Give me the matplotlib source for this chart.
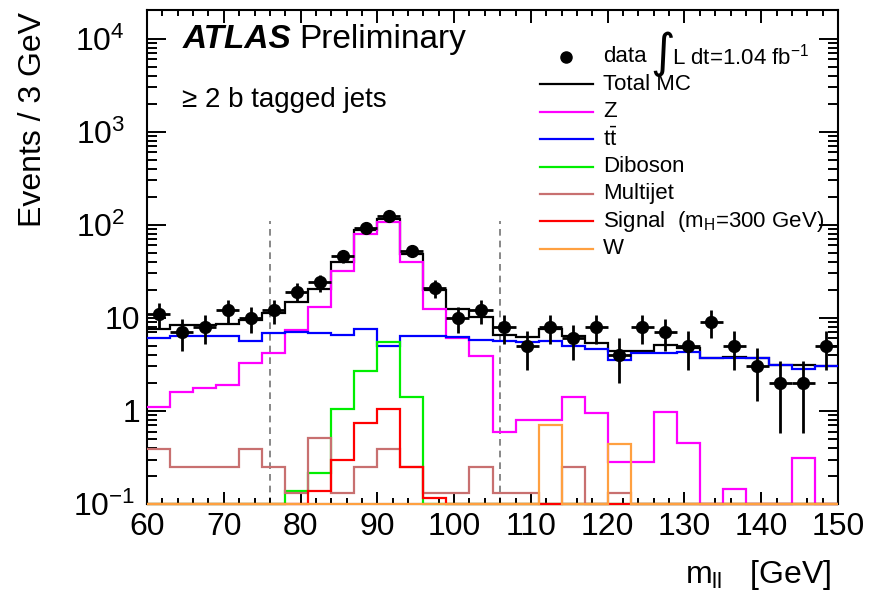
import numpy as np
import matplotlib
matplotlib.use('Agg')
import matplotlib.pyplot as plt
from matplotlib.ticker import FixedLocator, FixedFormatter, MultipleLocator, LogLocator, NullFormatter
from matplotlib.transforms import ScaledTranslation

plt.rcParams['font.family'] = ['Liberation Sans', 'DejaVu Sans']
plt.rcParams['mathtext.fontset'] = 'custom'
plt.rcParams['mathtext.rm'] = 'Liberation Sans'
plt.rcParams['mathtext.it'] = 'Liberation Sans:italic'
plt.rcParams['mathtext.bf'] = 'Liberation Sans:bold'

# m_ll bins, 3 GeV wide from 60 to 150
edges = np.arange(60, 151, 3)

# observed events per bin
data = [11, 7, 8, 12, 10, 12, 19, 24, 46, 92, 123, 52, 21, 10, 12,
        8, 5, 8, 6, 8, 4, 8, 7, 5, 9, 5, 3, 2, 2, 5]

total_mc = [7.6, 8.3, 8.4, 8.6, 9.4, 11.3, 14.7, 20.5, 39.5, 88, 116, 48, 19.8, 12.4, 10.2,
            6.5, 6.2, 7.5, 6.4, 5.4, 4.35, 4.4, 5.1, 4.75, 3.68, 3.8, 3.68, 3.12, 3.12, 3.0]
z_jets = [1.11, 1.61, 1.75, 1.9, 3.3, 4.17, 7.4, 13.0, 31.5, 80, 106, 40, 12.5, 6.05, 3.9,
          0.6, 0.8, 0.8, 1.4, 0.94, 0.28, 0.28, 0.98, 0.456, 0, 0.144, 0, 0, 0.31, 0]
ttbar = [6.05, 6.4, 6.4, 6.4, 5.7, 6.85, 7.1, 6.9, 6.56, 7.55, 4.92, 6.3, 6.3, 6.2, 5.8,
         5.7, 5.43, 5.7, 4.92, 4.6, 3.53, 4.17, 4.17, 4.3, 3.68, 3.68, 3.68, 3.12, 2.81, 3.0]
diboson = [0, 0, 0, 0, 0, 0, 0.139, 0.214, 1.04, 2.71, 5.43, 1.4, 0, 0, 0,
           0, 0, 0, 0, 0, 0, 0, 0, 0, 0, 0, 0, 0, 0, 0]
multijet = [0.39, 0.25, 0.25, 0.25, 0.39, 0.25, 0.13, 0.51, 0.13, 0.25, 0.39, 0.25, 0.13, 0.13, 0.25,
            0.13, 0.13, 0, 0.25, 0, 0.13, 0, 0, 0, 0, 0, 0, 0, 0, 0]
signal = [0, 0, 0, 0, 0, 0, 0, 0.139, 0.3, 0.75, 1.04, 0.25, 0.117, 0, 0,
          0, 0, 0, 0, 0, 0, 0, 0, 0, 0, 0, 0, 0, 0, 0]
w_jets = [0, 0, 0, 0, 0, 0, 0, 0, 0, 0, 0, 0, 0, 0, 0,
          0, 0, 0.707, 0, 0, 0.44, 0, 0, 0, 0, 0, 0, 0, 0, 0]

cuts = [76, 106]

ymin, ymax = 0.1, 2.0e4

fig = plt.figure(figsize=(8.72, 6.02), dpi=100)
ax = fig.add_axes([0.1686, 0.1628, 0.7924, 0.8198])
ax.set_yscale('log')

series = [
    (total_mc, 'black', 'Total MC'),
    (z_jets, '#ff00ff', 'Z'),
    (ttbar, '#0000ff', r'$\mathrm{t\bar{t}}$'),
    (diboson, '#00ee00', 'Diboson'),
    (multijet, '#c87070', 'Multijet'),
    (signal, '#ff0000', r'Signal  (m$_{\rm H}$=300 GeV)'),
    (w_jets, '#ffa040', 'W'),
]

# zero bins drop onto the bottom of the frame, like ROOT does on log scale
for vals, col, lab in series:
    v = np.maximum(np.asarray(vals, float), ymin)
    ax.stairs(v, edges, baseline=None, color=col, lw=1.6, zorder=3, clip_on=False)

ax.vlines(cuts, ymin, 110, colors='0.45', linestyles=(0, (4, 3)), lw=1.2, zorder=1)

centers = 0.5 * (edges[:-1] + edges[1:])
d = np.asarray(data, float)
ax.errorbar(centers, d, yerr=np.sqrt(d), xerr=1.5, fmt='o', color='black',
            ms=8.5, elinewidth=2.0, capsize=0, zorder=5)

ax.set_xlim(60, 150)
ax.set_ylim(ymin, ymax)

ax.xaxis.set_major_locator(MultipleLocator(10))
ax.xaxis.set_minor_locator(MultipleLocator(2))
ax.yaxis.set_major_locator(FixedLocator([0.1, 1, 10, 100, 1000, 10000]))
ax.yaxis.set_major_formatter(FixedFormatter(['$10^{-1}$', '1', '10', '$10^{2}$', '$10^{3}$', '$10^{4}$']))
ax.yaxis.set_minor_locator(LogLocator(base=10, subs=np.arange(2, 10), numticks=20))
ax.yaxis.set_minor_formatter(NullFormatter())

ax.tick_params(which='both', direction='in', top=True, right=True, labelsize=23, width=1.4)
ax.tick_params(axis='x', which='major', length=9, pad=6)
ax.tick_params(axis='x', which='minor', length=4.5)
ax.tick_params(axis='y', which='major', length=14, pad=5)
ax.tick_params(axis='y', which='minor', length=7)
for s in ax.spines.values():
    s.set_linewidth(1.5)

# ROOT puts the power labels a bit further from the axis than 1 and 10
shifts = [0.05, 0, 0, 0.15, 0.15, 0.15]
for lab, sh in zip(ax.yaxis.get_majorticklabels(), shifts):
    lab.set_transform(lab.get_transform() + ScaledTranslation(-sh, 0, fig.dpi_scale_trans))

ax.set_xlabel(r'm$_{\rm ll}$   [GeV]', fontsize=23, loc='right')
ax.xaxis.set_label_coords(0.99, -0.11)
ax.set_ylabel('Events / 3 GeV', fontsize=23, loc='top')
ax.yaxis.set_label_coords(-0.143, 0.997)

ax.text(0.052, 0.924, 'ATLAS', transform=ax.transAxes, fontsize=24,
        fontweight='bold', fontstyle='italic', va='baseline')
ax.text(0.221, 0.924, 'Preliminary', transform=ax.transAxes, fontsize=24, va='baseline')
ax.text(0.051, 0.805, '\u2265 2 b tagged jets', transform=ax.transAxes, fontsize=20, va='baseline')

# legend, drawn row by row in axes coordinates
row0, dy = 57, 27.4
def ay(py):
    return (504 - py) / 493.5
x0, x1, xt = 0.569, 0.645, 0.66
ax.plot([0.607], [ay(row0)], 'o', color='black', ms=8, transform=ax.transAxes, clip_on=False)
ax.text(xt, ay(row0), 'data', transform=ax.transAxes, fontsize=16, va='center')
ax.text(0.728, ay(row0 - 3), '\u222b', transform=ax.transAxes, fontsize=34, va='center',
        family=['DejaVu Sans'])
ax.text(0.760, ay(row0), r'L dt=1.04 fb$^{-1}$', transform=ax.transAxes, fontsize=16, va='center')
for i, (vals, col, lab) in enumerate(series, start=1):
    yy = ay(row0 + dy * i)
    ax.plot([x0, x1], [yy, yy], color=col, lw=1.6, transform=ax.transAxes)
    ax.text(xt, yy, lab, transform=ax.transAxes, fontsize=16, va='center')

fig.savefig('out.png', dpi=100)
